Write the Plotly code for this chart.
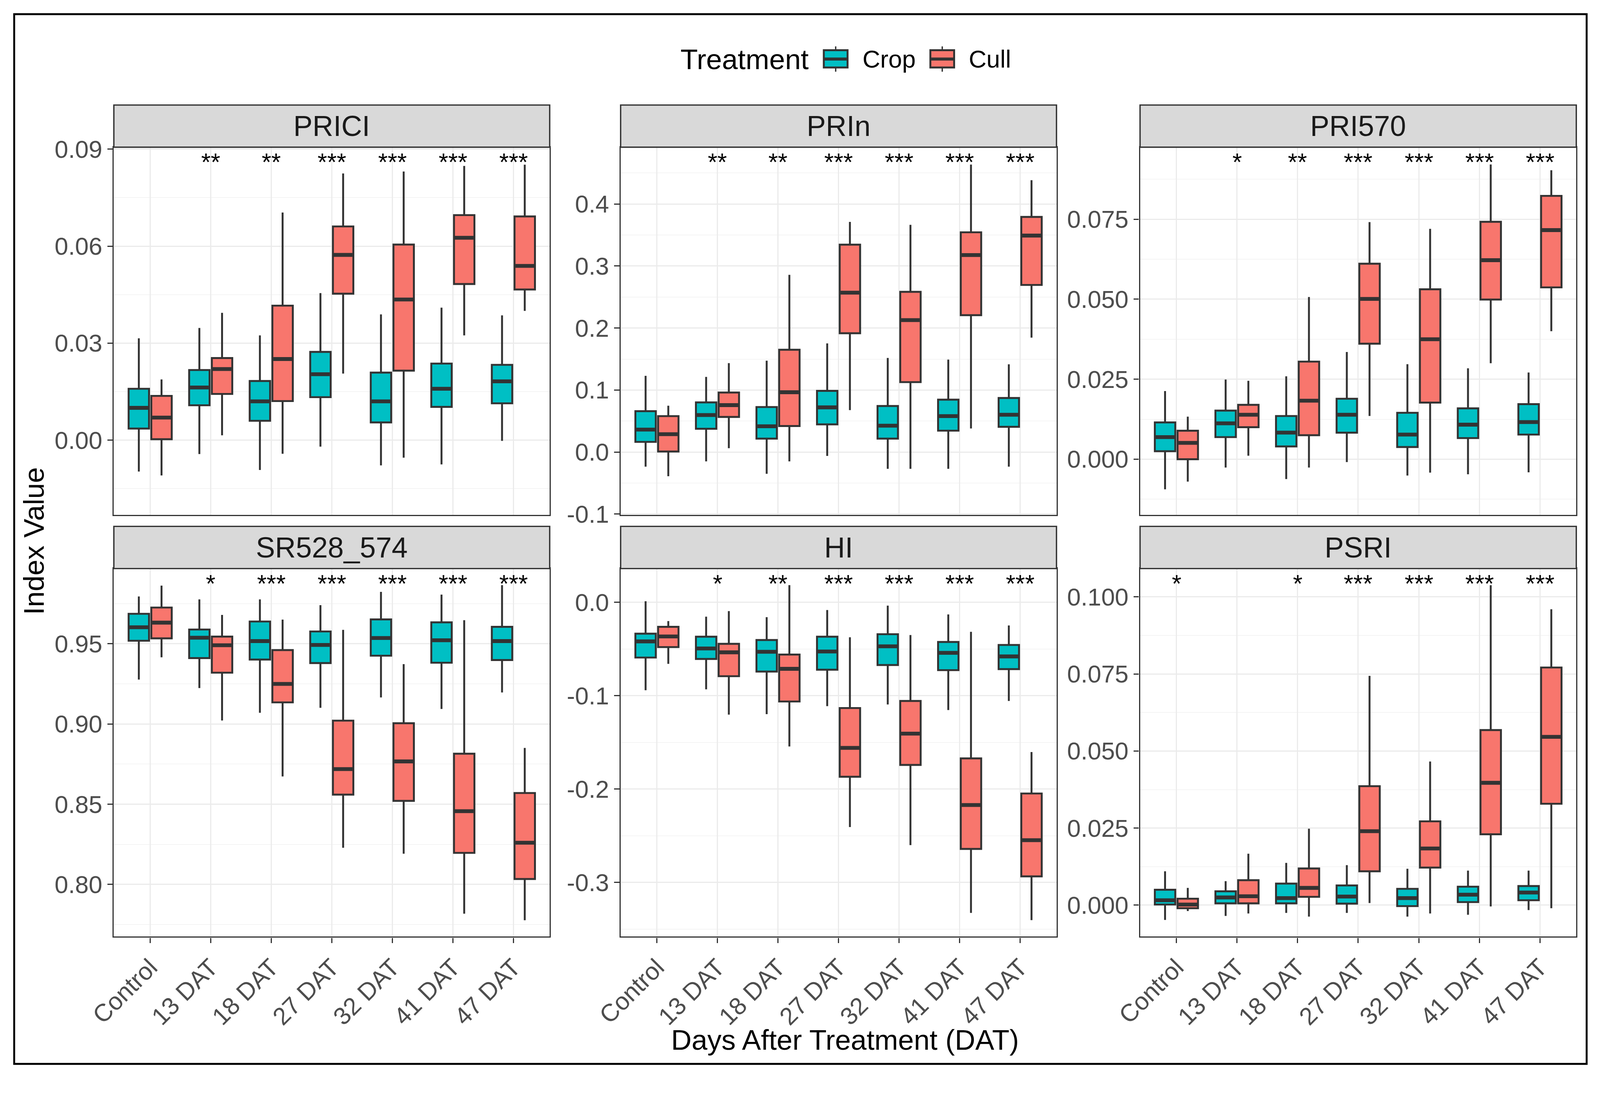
import plotly.graph_objects as go

# target picture size; the page shows up ~1.9% larger than its CSS size
# and sits inside the default 8px body margin, so positions are mapped back
W, H = 4174, 2808
MAG = 1.019
BODY = 8
FIG_W = round(W / MAG) - 2 * BODY
FIG_H = round(H / MAG) - 2 * BODY

DAYS = ["Control", "13 DAT", "18 DAT", "27 DAT", "32 DAT", "41 DAT", "47 DAT"]
TREATMENTS = ["Crop", "Cull"]
COLORS = {"Crop": "#00BFC4", "Cull": "#F8766D"}

# box stats per DAT: (lower whisker, q1, median, q3, upper whisker)
PRICI_CROP = [
    (-0.0097, 0.0036, 0.0100, 0.0159, 0.0315),
    (-0.0043, 0.0108, 0.0163, 0.0217, 0.0347),
    (-0.0092, 0.0060, 0.0120, 0.0183, 0.0324),
    (-0.0020, 0.0133, 0.0204, 0.0273, 0.0455),
    (-0.0078, 0.0055, 0.0120, 0.0209, 0.0389),
    (-0.0075, 0.0103, 0.0159, 0.0237, 0.0410),
    (-0.0002, 0.0114, 0.0182, 0.0233, 0.0386),
]
PRICI_CULL = [
    (-0.0109, 0.0003, 0.0070, 0.0137, 0.0188),
    (0.0015, 0.0143, 0.0220, 0.0254, 0.0394),
    (-0.0042, 0.0121, 0.0251, 0.0416, 0.0704),
    (0.0206, 0.0453, 0.0573, 0.0661, 0.0825),
    (-0.0054, 0.0215, 0.0435, 0.0605, 0.0831),
    (0.0324, 0.0483, 0.0626, 0.0696, 0.0848),
    (0.0400, 0.0466, 0.0539, 0.0692, 0.0852),
]
PRIN_CROP = [
    (-0.0235, 0.0164, 0.0363, 0.0659, 0.1230),
    (-0.0150, 0.0376, 0.0597, 0.0801, 0.1212),
    (-0.0350, 0.0217, 0.0416, 0.0726, 0.1473),
    (-0.0062, 0.0447, 0.0721, 0.0987, 0.1752),
    (-0.0270, 0.0217, 0.0425, 0.0743, 0.1518),
    (-0.0270, 0.0345, 0.0580, 0.0845, 0.1491),
    (-0.0235, 0.0407, 0.0602, 0.0872, 0.1416),
]
PRIN_CULL = [
    (-0.0389, 0.0009, 0.0288, 0.0580, 0.0748),
    (0.0062, 0.0566, 0.0757, 0.0960, 0.1434),
    (-0.0150, 0.0420, 0.0965, 0.1650, 0.2858),
    (0.0677, 0.1916, 0.2571, 0.3345, 0.3712),
    (-0.0270, 0.1128, 0.2128, 0.2584, 0.3664),
    (0.0381, 0.2208, 0.3177, 0.3544, 0.4637),
    (0.1845, 0.2695, 0.3491, 0.3792, 0.4385),
]
PRI570_CROP = [
    (-0.0094, 0.0025, 0.0069, 0.0115, 0.0213),
    (-0.0026, 0.0069, 0.0112, 0.0152, 0.0249),
    (-0.0062, 0.0040, 0.0083, 0.0135, 0.0259),
    (-0.0009, 0.0083, 0.0139, 0.0189, 0.0335),
    (-0.0051, 0.0038, 0.0077, 0.0145, 0.0297),
    (-0.0047, 0.0066, 0.0108, 0.0159, 0.0284),
    (-0.0041, 0.0077, 0.0116, 0.0172, 0.0271),
]
PRI570_CULL = [
    (-0.0070, 0.0000, 0.0051, 0.0089, 0.0133),
    (0.0011, 0.0100, 0.0139, 0.0170, 0.0245),
    (-0.0026, 0.0075, 0.0183, 0.0305, 0.0507),
    (0.0135, 0.0361, 0.0501, 0.0611, 0.0741),
    (-0.0042, 0.0177, 0.0375, 0.0531, 0.0720),
    (0.0300, 0.0499, 0.0622, 0.0742, 0.0921),
    (0.0400, 0.0537, 0.0716, 0.0823, 0.0903),
]
SR_CROP = [
    (0.9277, 0.9519, 0.9603, 0.9687, 0.9795),
    (0.9224, 0.9411, 0.9538, 0.9589, 0.9777),
    (0.9070, 0.9402, 0.9517, 0.9639, 0.9777),
    (0.9101, 0.9380, 0.9493, 0.9577, 0.9741),
    (0.9166, 0.9426, 0.9536, 0.9652, 0.9824),
    (0.9094, 0.9382, 0.9522, 0.9634, 0.9807),
    (0.9197, 0.9399, 0.9517, 0.9606, 0.9866),
]
SR_CULL = [
    (0.9416, 0.9534, 0.9632, 0.9726, 0.9863),
    (0.9022, 0.9320, 0.9491, 0.9545, 0.9680),
    (0.8673, 0.9135, 0.9250, 0.9461, 0.9651),
    (0.8229, 0.8560, 0.8719, 0.9021, 0.9587),
    (0.8192, 0.8521, 0.8767, 0.9005, 0.9373),
    (0.7818, 0.8197, 0.8457, 0.8815, 0.9647),
    (0.7777, 0.8034, 0.8260, 0.8570, 0.8851),
]
HI_CROP = [
    (-0.0941, -0.0591, -0.0418, -0.0335, 0.0012),
    (-0.0932, -0.0606, -0.0494, -0.0368, -0.0153),
    (-0.1197, -0.0741, -0.0529, -0.0403, -0.0159),
    (-0.1112, -0.0721, -0.0526, -0.0368, -0.0082),
    (-0.1094, -0.0671, -0.0471, -0.0341, -0.0035),
    (-0.1153, -0.0726, -0.0541, -0.0424, -0.0129),
    (-0.1056, -0.0715, -0.0579, -0.0456, -0.0247),
]
HI_CULL = [
    (-0.0659, -0.0479, -0.0365, -0.0262, -0.0200),
    (-0.1203, -0.0791, -0.0535, -0.0444, -0.0094),
    (-0.1544, -0.1062, -0.0712, -0.0559, 0.0185),
    (-0.2406, -0.1868, -0.1559, -0.1132, -0.0374),
    (-0.2600, -0.1741, -0.1406, -0.1056, -0.0350),
    (-0.3326, -0.2641, -0.2171, -0.1671, -0.0315),
    (-0.3403, -0.2935, -0.2547, -0.2047, -0.1603),
]
PSRI_CROP = [
    (-0.0048, 0.0002, 0.0016, 0.0050, 0.0110),
    (-0.0035, 0.0006, 0.0025, 0.0045, 0.0078),
    (-0.0025, 0.0006, 0.0023, 0.0070, 0.0137),
    (-0.0025, 0.0005, 0.0028, 0.0064, 0.0130),
    (-0.0037, -0.0003, 0.0023, 0.0053, 0.0118),
    (-0.0031, 0.0010, 0.0034, 0.0060, 0.0112),
    (-0.0016, 0.0016, 0.0041, 0.0062, 0.0112),
]
PSRI_CULL = [
    (-0.0019, -0.0010, 0.0002, 0.0021, 0.0056),
    (-0.0027, 0.0006, 0.0029, 0.0081, 0.0167),
    (-0.0037, 0.0027, 0.0056, 0.0119, 0.0248),
    (0.0007, 0.0110, 0.0240, 0.0386, 0.0744),
    (-0.0027, 0.0122, 0.0184, 0.0272, 0.0466),
    (-0.0004, 0.0230, 0.0397, 0.0568, 0.1038),
    (-0.0010, 0.0329, 0.0546, 0.0771, 0.0960),
]

# significance labels per DAT
PRICI_SIG = ["", "**", "**", "***", "***", "***", "***"]
PRIN_SIG = ["", "**", "**", "***", "***", "***", "***"]
PRI570_SIG = ["", "*", "**", "***", "***", "***", "***"]
SR_SIG = ["", "*", "***", "***", "***", "***", "***"]
HI_SIG = ["", "*", "**", "***", "***", "***", "***"]
PSRI_SIG = ["*", "", "*", "***", "***", "***", "***"]

# y ticks
PRICI_TICKS = [0.00, 0.03, 0.06, 0.09]
PRICI_LABELS = ["0.00", "0.03", "0.06", "0.09"]
PRIN_TICKS = [-0.1, 0.0, 0.1, 0.2, 0.3, 0.4]
PRIN_LABELS = ["-0.1", "0.0", "0.1", "0.2", "0.3", "0.4"]
PRI570_TICKS = [0.000, 0.025, 0.050, 0.075]
PRI570_LABELS = ["0.000", "0.025", "0.050", "0.075"]
SR_TICKS = [0.80, 0.85, 0.90, 0.95]
SR_LABELS = ["0.80", "0.85", "0.90", "0.95"]
HI_TICKS = [-0.3, -0.2, -0.1, 0.0]
HI_LABELS = ["-0.3", "-0.2", "-0.1", "0.0"]
PSRI_TICKS = [0.000, 0.025, 0.050, 0.075, 0.100]
PSRI_LABELS = ["0.000", "0.025", "0.050", "0.075", "0.100"]

panels = [
    ("PRICI", PRICI_CROP, PRICI_CULL, PRICI_SIG, PRICI_TICKS, PRICI_LABELS, [-0.0231, 0.0906], 0.015),
    ("PRIn", PRIN_CROP, PRIN_CULL, PRIN_SIG, PRIN_TICKS, PRIN_LABELS, [-0.1013, 0.4916], 0.05),
    ("PRI570", PRI570_CROP, PRI570_CULL, PRI570_SIG, PRI570_TICKS, PRI570_LABELS, [-0.0174, 0.0975], 0.0125),
    ("SR528_574", SR_CROP, SR_CULL, SR_SIG, SR_TICKS, SR_LABELS, [0.7675, 0.9969], 0.025),
    ("HI", HI_CROP, HI_CULL, HI_SIG, HI_TICKS, HI_LABELS, [-0.358, 0.0362], 0.05),
    ("PSRI", PSRI_CROP, PSRI_CULL, PSRI_SIG, PSRI_TICKS, PSRI_LABELS, [-0.0102, 0.1092], 0.0125),
]

FONT = "Liberation Sans, Arial, sans-serif"
DARK = "#333333"
GRID = "#EBEBEB"

# panel positions in picture pixels
COLS = [(297, 1434), (1619, 2756), (2974, 4112)]
ROWS = [(384, 1343), (1483, 2443)]
STRIP_H = 110


def px_x(p):
    return (p / MAG - BODY) / FIG_W


def px_y(p):
    return 1 - (p / MAG - BODY) / FIG_H


def sz(v):
    return v / MAG


fig = go.Figure()
shapes = []
annotations = []
layout = {}

for i, (name, crop, cull, sig, ticks, labels, yrange, minor_step) in enumerate(panels):
    r, c = divmod(i, 3)
    n = i + 1
    xa = "x" if n == 1 else f"x{n}"
    ya = "y" if n == 1 else f"y{n}"

    for t, stats in zip(TREATMENTS, (crop, cull)):
        lw = [s[0] for s in stats]
        q1 = [s[1] for s in stats]
        med = [s[2] for s in stats]
        q3 = [s[3] for s in stats]
        uw = [s[4] for s in stats]
        fig.add_trace(go.Box(
            x=DAYS, lowerfence=lw, q1=q1, median=med, q3=q3, upperfence=uw,
            name=t, offsetgroup=t, fillcolor=COLORS[t],
            line=dict(color=DARK, width=sz(5)), whiskerwidth=0,
            boxpoints=False, showlegend=False, xaxis=xa, yaxis=ya,
        ))
        # thicker median bar, like ggplot's fatten
        fig.add_trace(go.Box(
            x=DAYS, lowerfence=med, q1=med, median=med, q3=med, upperfence=med,
            name=t, offsetgroup=t, fillcolor="rgba(0,0,0,0)",
            line=dict(color=DARK, width=sz(10)), whiskerwidth=0,
            boxpoints=False, showlegend=False, hoverinfo="skip",
            xaxis=xa, yaxis=ya,
        ))

    x0, x1 = COLS[c]
    ytop, ybot = ROWS[r]
    bottom_row = r == 1

    layout[f"xaxis{n}"] = dict(
        domain=[px_x(x0), px_x(x1)], anchor=ya, type="category",
        categoryorder="array", categoryarray=DAYS, range=[-0.6, 6.6],
        showgrid=True, gridcolor=GRID, gridwidth=sz(3), zeroline=False,
        showline=True, mirror=True, linecolor=DARK, linewidth=sz(3.5),
        ticks="outside" if bottom_row else "", ticklen=sz(14), tickwidth=sz(3.5), tickcolor=DARK,
        showticklabels=bottom_row, tickangle=-45,
        tickfont=dict(family=FONT, size=sz(64), color="#4D4D4D"),
        automargin=False,
    )
    layout[f"yaxis{n}"] = dict(
        domain=[px_y(ybot), px_y(ytop)], anchor=xa, range=yrange,
        tickmode="array", tickvals=ticks, ticktext=labels,
        showgrid=True, gridcolor=GRID, gridwidth=sz(3), zeroline=False,
        minor=dict(tickmode="linear", tick0=0, dtick=minor_step, showgrid=True,
                   gridcolor=GRID, gridwidth=sz(1.5), ticks=""),
        showline=True, mirror=True, linecolor=DARK, linewidth=sz(3.5),
        ticks="outside", ticklen=sz(14), tickwidth=sz(3.5), tickcolor=DARK,
        ticklabelstandoff=0,
        tickfont=dict(family=FONT, size=sz(64), color="#4D4D4D"),
        automargin=False,
    )

    # facet strip
    shapes.append(dict(
        type="rect", xref="paper", yref="paper",
        x0=px_x(x0), x1=px_x(x1), y0=px_y(ytop), y1=px_y(ytop - STRIP_H),
        fillcolor="#D9D9D9", line=dict(color=DARK, width=sz(3.5)),
    ))
    annotations.append(dict(
        xref="paper", yref="paper", x=px_x((x0 + x1) / 2), y=px_y(ytop - STRIP_H / 2),
        text=name, showarrow=False, xanchor="center", yanchor="middle",
        font=dict(family=FONT, size=sz(75), color="#1A1A1A"),
    ))

    for day, s in zip(DAYS, sig):
        if s:
            annotations.append(dict(
                xref=xa, yref=f"{ya} domain", x=day, y=0.96, text=s,
                showarrow=False, xanchor="center", yanchor="middle",
                font=dict(family=FONT, size=sz(64), color="black"),
            ))

# axis titles
annotations.append(dict(
    xref="paper", yref="paper", x=px_x(88), y=px_y(1411), text="Index Value",
    textangle=-90, showarrow=False, xanchor="center", yanchor="middle",
    font=dict(family=FONT, size=sz(74), color="black"),
))
annotations.append(dict(
    xref="paper", yref="paper", x=px_x(2204), y=px_y(2712),
    text="Days After Treatment (DAT)", showarrow=False,
    xanchor="center", yanchor="middle",
    font=dict(family=FONT, size=sz(74), color="black"),
))

# legend drawn by hand so the keys have the ggplot size
legend_y = 154
annotations.append(dict(
    xref="paper", yref="paper", x=px_x(1773), y=px_y(legend_y), text="Treatment",
    showarrow=False, xanchor="left", yanchor="middle",
    font=dict(family=FONT, size=sz(74), color="black"),
))
for key_x, label_x, t in [(2149, 2248, "Crop"), (2427, 2525, "Cull")]:
    cx = key_x + 31
    shapes.append(dict(type="line", xref="paper", yref="paper",
                       x0=px_x(cx), x1=px_x(cx), y0=px_y(121), y1=px_y(187),
                       line=dict(color=DARK, width=sz(3.5))))
    shapes.append(dict(type="rect", xref="paper", yref="paper",
                       x0=px_x(key_x), x1=px_x(key_x + 62), y0=px_y(131), y1=px_y(176),
                       fillcolor=COLORS[t], line=dict(color=DARK, width=sz(5))))
    shapes.append(dict(type="line", xref="paper", yref="paper",
                       x0=px_x(key_x), x1=px_x(key_x + 62), y0=px_y(legend_y), y1=px_y(legend_y),
                       line=dict(color=DARK, width=sz(8))))
    annotations.append(dict(
        xref="paper", yref="paper", x=px_x(label_x), y=px_y(legend_y), text=t,
        showarrow=False, xanchor="left", yanchor="middle",
        font=dict(family=FONT, size=sz(64), color="black"),
    ))

# outer frame
shapes.append(dict(type="rect", xref="paper", yref="paper",
                   x0=px_x(37), x1=px_x(4139), y0=px_y(2775), y1=px_y(37),
                   line=dict(color="black", width=sz(5))))

fig.update_layout(
    width=FIG_W, height=FIG_H, template="none",
    margin=dict(l=0, r=0, t=0, b=0),
    paper_bgcolor="white", plot_bgcolor="white",
    boxmode="group", boxgap=0.25, boxgroupgap=0.1,
    showlegend=False, shapes=shapes, annotations=annotations,
    font=dict(family=FONT),
    **layout,
)

fig.write_html("out.html")
